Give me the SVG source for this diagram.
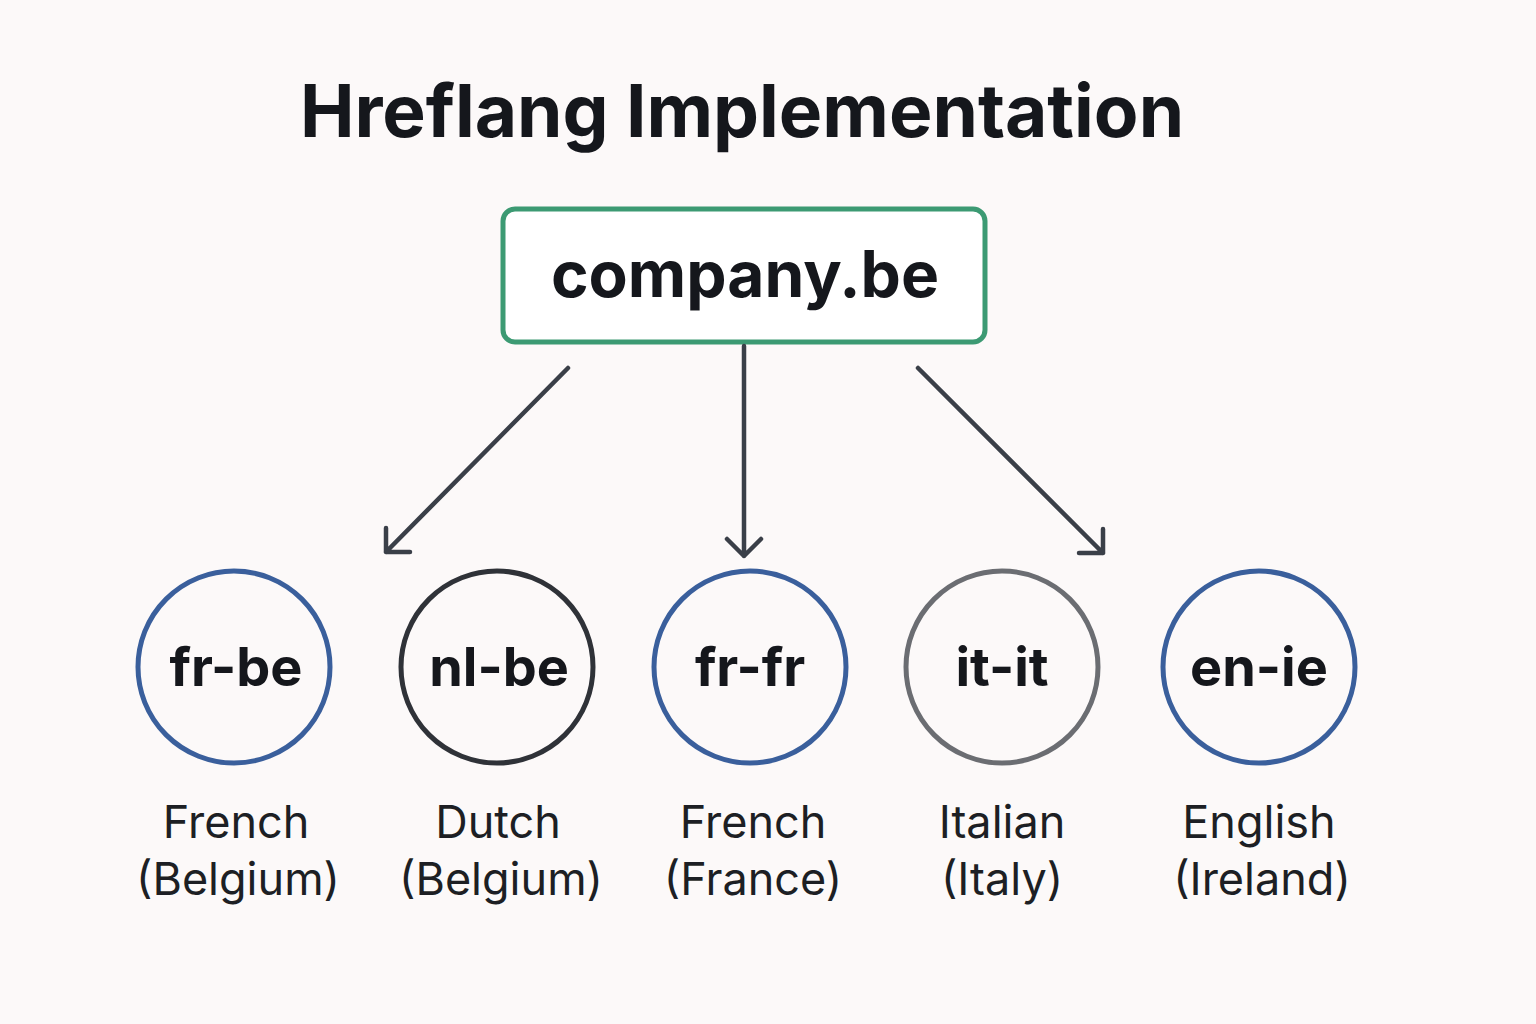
<svg xmlns="http://www.w3.org/2000/svg" width="1536" height="1024" viewBox="0 0 1536 1024">
<style>
.t{font-family:Inter,"Liberation Sans",sans-serif;fill:#15171c}
.code{font-size:54px;font-weight:700;text-anchor:middle}
.lab{font-size:45px;text-anchor:middle;fill:#1d1f24}
.c{fill:none;stroke-width:5}
.a{fill:none;stroke:#3a3f48;stroke-width:4.5;stroke-linecap:round;stroke-linejoin:round}
</style>
<rect width="1536" height="1024" fill="#fcf9f9"/>
<text class="t" x="742" y="137" font-size="73" font-weight="700" text-anchor="middle">Hreflang Implementation</text>
<g id="root">
<rect x="503" y="209" width="482" height="133" rx="12" fill="#fff" stroke="#3c9a73" stroke-width="5"/>
<text class="t" x="745" y="297" font-size="64" font-weight="700" text-anchor="middle">company.be</text>
</g>
<g id="connectors">
<path class="a" d="M568 368 L386 552 M386 528 L386 552 L410 552"/>
<path class="a" d="M744 346 L744 556 M727 539 L744 556 L761 539"/>
<path class="a" d="M918 368 L1103 553 M1103 529 L1103 553 L1079 553"/>
</g>
<g id="frbe"><circle class="c" cx="234" cy="667" r="96" stroke="#3a5f9c"/><text class="t code" x="236" y="686">fr-be</text><text class="t lab" x="236" y="838">French</text><text class="t lab" x="238" y="895">(Belgium)</text></g>
<g id="nlbe"><circle class="c" cx="497" cy="667" r="96" stroke="#2f3238"/><text class="t code" x="499" y="686">nl-be</text><text class="t lab" x="498" y="838">Dutch</text><text class="t lab" x="501" y="895">(Belgium)</text></g>
<g id="frfr"><circle class="c" cx="750" cy="667" r="96" stroke="#3a5f9c"/><text class="t code" x="750" y="686">fr-fr</text><text class="t lab" x="753" y="838">French</text><text class="t lab" x="753" y="895">(France)</text></g>
<g id="itit"><circle class="c" cx="1002" cy="667" r="96" stroke="#6b6d72"/><text class="t code" x="1002" y="686">it-it</text><text class="t lab" x="1002" y="838">Italian</text><text class="t lab" x="1002" y="895">(Italy)</text></g>
<g id="enie"><circle class="c" cx="1259" cy="667" r="96" stroke="#3a5f9c"/><text class="t code" x="1259" y="686">en-ie</text><text class="t lab" x="1259" y="838">English</text><text class="t lab" x="1262" y="895">(Ireland)</text></g>
</svg>
